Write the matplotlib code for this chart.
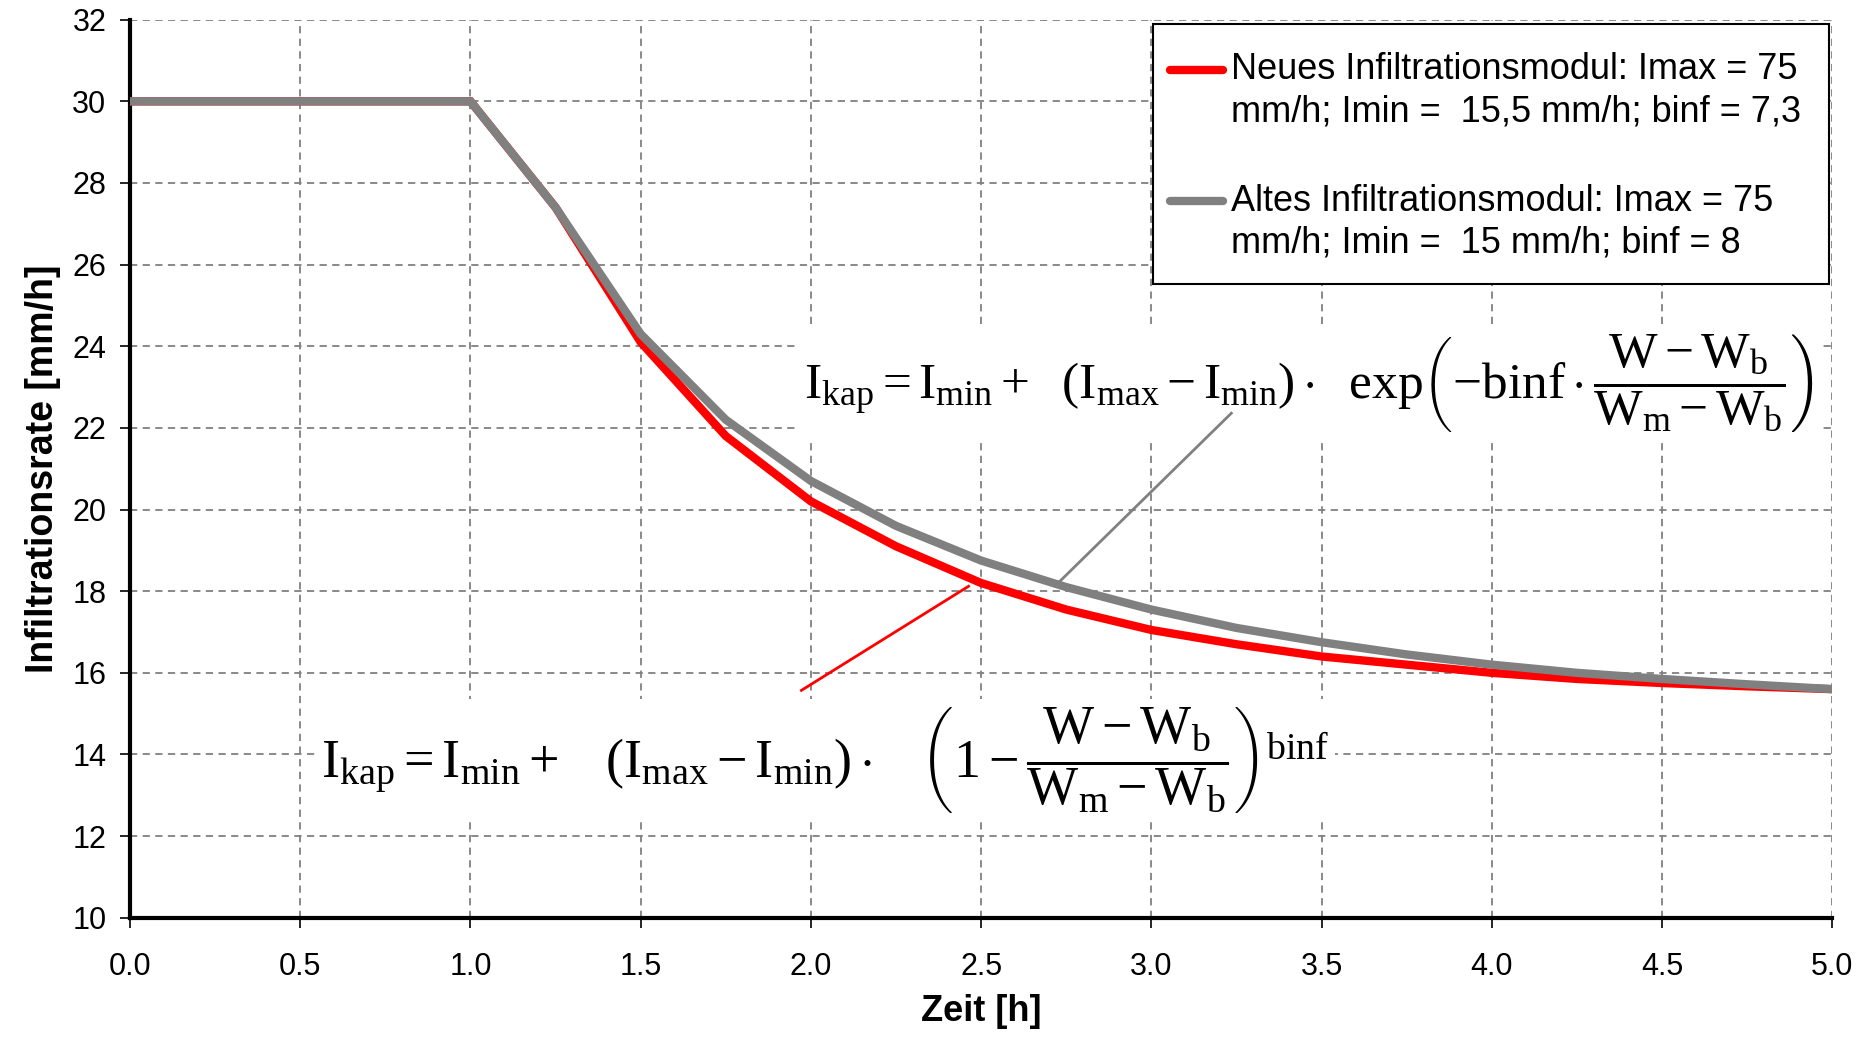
import matplotlib
matplotlib.use("Agg")
from matplotlib import pyplot as plt

# time steps [h] and infiltration rates [mm/h]
zeit = [0.0, 0.25, 0.5, 0.75, 1.0, 1.25, 1.5, 1.75, 2.0, 2.25, 2.5, 2.75,
        3.0, 3.25, 3.5, 3.75, 4.0, 4.25, 4.5, 4.75, 5.0]
neu = [30.0, 30.0, 30.0, 30.0, 30.0, 27.4, 24.1, 21.8, 20.2, 19.1, 18.2, 17.55,
       17.05, 16.7, 16.4, 16.2, 16.0, 15.85, 15.75, 15.67, 15.6]
alt = [30.0, 30.0, 30.0, 30.0, 30.0, 27.4, 24.3, 22.2, 20.7, 19.6, 18.75, 18.1,
       17.55, 17.1, 16.75, 16.45, 16.2, 16.0, 15.85, 15.72, 15.6]

legend_neu = ["Neues Infiltrationsmodul: Imax = 75", "mm/h; Imin =  15,5 mm/h; binf = 7,3"]
legend_alt = ["Altes Infiltrationsmodul: Imax = 75", "mm/h; Imin =  15 mm/h; binf = 8"]

formel_alt = r"$\mathrm{I_{kap} = I_{min} +\ \ (I_{max} - I_{min}) \cdot\ \ exp}\left(-\mathrm{binf} \cdot \dfrac{\mathrm{W - W_b}}{\mathrm{W_m - W_b}}\right)$"
formel_neu = r"$\mathrm{I_{kap} = I_{min} +\ \ \ (I_{max} - I_{min}) \cdot}\ \ \ \left(1 - \dfrac{\mathrm{W - W_b}}{\mathrm{W_m - W_b}}\right)^{\mathrm{binf}}$"

plt.rcParams["font.family"] = ["Liberation Sans", "DejaVu Sans"]
plt.rcParams["mathtext.fontset"] = "custom"
plt.rcParams["mathtext.rm"] = "Liberation Serif"
plt.rcParams["mathtext.it"] = "Liberation Serif:italic"

fig = plt.figure(figsize=(18.74, 10.37), dpi=100)
ax = fig.add_axes([0.0694, 0.115, 0.9083, 0.866])

ax.plot(zeit, neu, color="#ff0000", lw=6, solid_joinstyle="miter", zorder=3)
ax.plot(zeit, alt, color="#808080", lw=6, solid_joinstyle="miter", zorder=4)

ax.set_xlim(0, 5)
ax.set_ylim(10, 32)
ax.set_xticks([0.0, 0.5, 1.0, 1.5, 2.0, 2.5, 3.0, 3.5, 4.0, 4.5, 5.0])
ax.set_yticks(range(10, 33, 2))
ax.xaxis.set_major_formatter(matplotlib.ticker.FormatStrFormatter("%.1f"))
ax.tick_params(labelsize=22, length=7, width=1.2, direction="out")
ax.tick_params(axis="x", pad=18)
ax.tick_params(axis="y", pad=10)
ax.grid(True, color="#808080", ls=(0, (4, 3)), lw=1.3)

for s in ["top", "right"]:
    ax.spines[s].set_visible(False)
ax.spines["left"].set_linewidth(3)
ax.spines["bottom"].set_linewidth(3)

ax.set_xlabel("Zeit [h]", fontsize=26, fontweight="bold", labelpad=8)
ax.set_ylabel("Infiltrationsrate [mm/h]", fontsize=27, fontweight="bold", labelpad=8)

# legend drawn by hand so the handles sit on the first text line
tr = ax.transAxes
ax.add_patch(plt.Rectangle((0.601, 0.706), 0.397, 0.289, transform=tr, facecolor="white",
                           edgecolor="black", lw=1.5, zorder=10))
for (lines, col, y0) in [(legend_neu, "#ff0000", 0.944), (legend_alt, "#808080", 0.798)]:
    ax.plot([0.611, 0.642], [y0, y0], transform=tr, color=col, lw=6,
            solid_capstyle="round", zorder=11)
    for k, t in enumerate(lines):
        ax.text(0.647, y0 - k * 0.047, t, transform=tr, fontsize=26, ha="left",
                va="center", zorder=11)

# formulas with annotation lines
ax.plot([3.235, 2.726], [22.36, 18.2], color="#808080", lw=2, zorder=7)
ax.plot([2.463, 1.972], [18.12, 15.57], color="#ff0000", lw=2, zorder=7)

ax.text(3.463, 23.1, formel_alt, fontsize=37, ha="center", va="center", zorder=6,
        bbox=dict(facecolor="white", edgecolor="none", pad=4))
ax.text(2.042, 13.87, formel_neu, fontsize=39, ha="center", va="center", zorder=6,
        bbox=dict(facecolor="white", edgecolor="none", pad=4))

fig.savefig("out.png", dpi=100)
